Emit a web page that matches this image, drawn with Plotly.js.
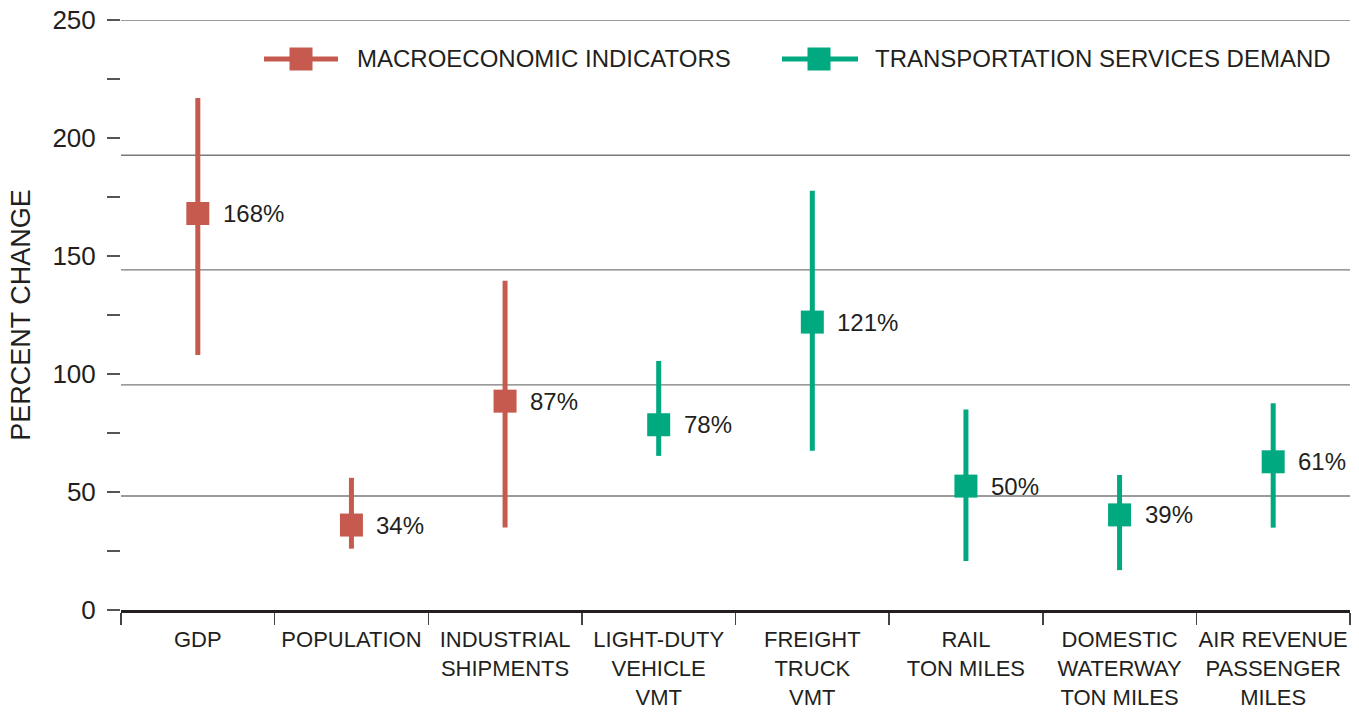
<!DOCTYPE html>
<html>
<head>
<meta charset="utf-8">
<script src="https://cdn.plot.ly/plotly-3.0.1.min.js"></script>
<style>html,body{margin:0;padding:0;background:#fff;}#chart{width:1359px;height:713px;}</style>
</head>
<body>
<div id="chart"></div>
<script>
// ---- data ----
const categories = ['GDP', 'POPULATION', 'INDUSTRIAL<br>SHIPMENTS', 'LIGHT-DUTY<br>VEHICLE<br>VMT',
  'FREIGHT<br>TRUCK<br>VMT', 'RAIL<br>TON MILES', 'DOMESTIC<br>WATERWAY<br>TON MILES',
  'AIR REVENUE<br>PASSENGER<br>MILES'];

const macroCats = ['GDP', 'POPULATION', 'INDUSTRIAL<br>SHIPMENTS'];
const macroMid = [168, 36, 88.5];
const macroLow = [108, 26, 35];
const macroHigh = [217, 56, 139.5];
const macroLabels = ['168%', '34%', '87%'];

const transCats = ['LIGHT-DUTY<br>VEHICLE<br>VMT', 'FREIGHT<br>TRUCK<br>VMT', 'RAIL<br>TON MILES',
  'DOMESTIC<br>WATERWAY<br>TON MILES', 'AIR REVENUE<br>PASSENGER<br>MILES'];
const transMid = [78.5, 122, 52.5, 40.3, 62.8];
const transLow = [65.3, 67.5, 20.8, 16.9, 34.9];
const transHigh = [105.5, 177.7, 85, 57.2, 87.6];
const transLabels = ['78%', '121%', '50%', '39%', '61%'];

const seriesNames = ['MACROECONOMIC INDICATORS', 'TRANSPORTATION SERVICES DEMAND'];
const yTickVals = [0, 25, 50, 75, 100, 125, 150, 175, 200, 225, 250];
const yTickText = ['0', '', '50', '', '100', '', '150', '', '200', '', '250'];
const gridLevels = [48.3, 95.4, 144.1, 192.7, 250];

// ---- styles ----
const RED = '#C65A4E';
const GREEN = '#00A97F';
const TXT = '#231f20';
const FONT = 'Liberation Sans, Arial, sans-serif';

const W = 1359, H = 713;
const M = {l: 121, r: 9, t: 20, b: 103};
const pw = W - M.l - M.r, ph = H - M.t - M.b;
const px = x => (x - M.l) / pw;
const py = y => (H - M.b - y) / ph;

function rangeTrace(cats, mid, low, high, color) {
  return {
    type: 'scatter', mode: 'markers', x: cats, y: mid, showlegend: false, hoverinfo: 'x+y',
    marker: {symbol: 'square', size: 23, color: color},
    error_y: {
      type: 'data', symmetric: false,
      array: high.map((h, i) => h - mid[i]),
      arrayminus: low.map((l, i) => mid[i] - l),
      thickness: 5, width: 0, color: color
    }
  };
}

const data = [
  rangeTrace(macroCats, macroMid, macroLow, macroHigh, RED),
  rangeTrace(transCats, transMid, transLow, transHigh, GREEN)
];

function labelAnns(cats, mid, labels) {
  return cats.map((c, i) => ({
    x: c, y: mid[i], xref: 'x', yref: 'y', text: labels[i], showarrow: false,
    xanchor: 'left', yanchor: 'middle', xshift: 23,
    font: {family: FONT, size: 24, color: TXT}
  }));
}

const shapes = gridLevels.map(v => ({
  type: 'line', xref: 'paper', yref: 'y', x0: 0, x1: 1, y0: v, y1: v,
  line: {color: '#7a7a7a', width: 1.3}, layer: 'below'
}));

// manual legend (key positions in pixels)
const legendItems = [
  {name: seriesNames[0], color: RED, lx0: 264, lx1: 338, sq: 301, tx: 355},
  {name: seriesNames[1], color: GREEN, lx0: 782, lx1: 858, sq: 819, tx: 873}
];
const legendY = 59;
const annotations = [...labelAnns(macroCats, macroMid, macroLabels), ...labelAnns(transCats, transMid, transLabels)];
legendItems.forEach(it => {
  shapes.push({type: 'line', xref: 'paper', yref: 'paper', x0: px(it.lx0), x1: px(it.lx1),
    y0: py(legendY), y1: py(legendY), line: {color: it.color, width: 5}});
  shapes.push({type: 'rect', xref: 'paper', yref: 'paper', x0: px(it.sq - 11.5), x1: px(it.sq + 11.5),
    y0: py(legendY - 11.5), y1: py(legendY + 11.5), line: {width: 0}, fillcolor: it.color});
  annotations.push({xref: 'paper', yref: 'paper', x: px(it.tx), y: py(legendY), text: it.name,
    showarrow: false, xanchor: 'left', yanchor: 'middle',
    font: {family: FONT, size: 24, color: TXT}});
});

const layout = {
  width: W, height: H, margin: M,
  paper_bgcolor: '#fff', plot_bgcolor: '#fff',
  showlegend: false,
  font: {family: FONT, color: TXT},
  xaxis: {
    type: 'category', categoryorder: 'array', categoryarray: categories,
    range: [-0.5, categories.length - 0.5],
    tickson: 'boundaries', ticks: 'outside', ticklen: 12, tickwidth: 1.5, tickcolor: '#444',
    tickangle: 0, automargin: false, ticklabelstandoff: 8,
    showline: true, linecolor: TXT, linewidth: 3, showgrid: false, zeroline: false,
    tickfont: {family: FONT, size: 22, color: TXT}, fixedrange: true
  },
  yaxis: {
    range: [0, 250], tickmode: 'array', tickvals: yTickVals, ticktext: yTickText,
    ticks: 'outside', ticklen: 13, tickwidth: 1.5, tickcolor: '#555', ticklabelstandoff: 6,
    showline: false, showgrid: false, zeroline: false, automargin: 'left',
    tickfont: {family: FONT, size: 26, color: TXT},
    title: {text: 'PERCENT CHANGE', font: {family: FONT, size: 27, color: TXT}, standoff: 13},
    fixedrange: true
  },
  shapes: shapes,
  annotations: annotations
};

Plotly.newPlot('chart', data, layout, {displayModeBar: false, staticPlot: true});
</script>
</body>
</html>
